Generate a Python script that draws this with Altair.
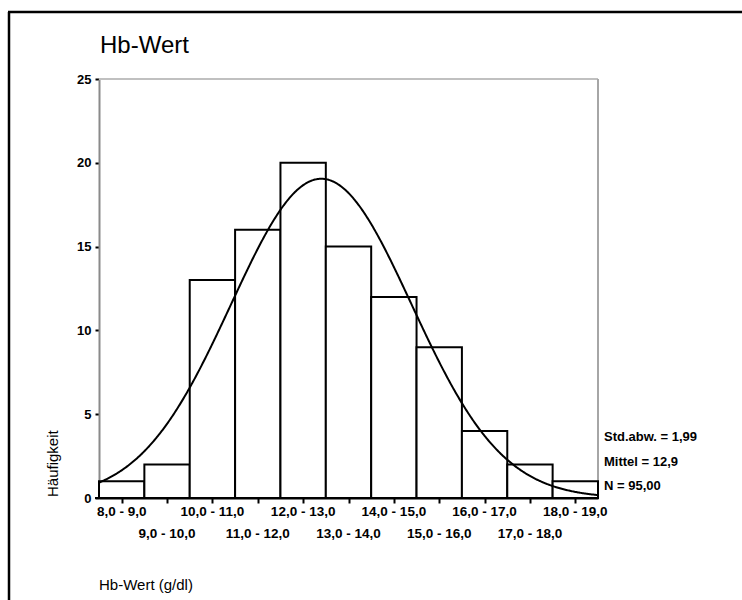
import altair as alt
import pandas as pd

# Histogram of haemoglobin values (g/dl), class width 1
bin_lo = [8, 9, 10, 11, 12, 13, 14, 15, 16, 17, 18]
bin_hi = [9, 10, 11, 12, 13, 14, 15, 16, 17, 18, 19]
counts = [1, 2, 13, 16, 20, 15, 12, 9, 4, 2, 1]
bin_labels = [
    "8,0 - 9,0", "9,0 - 10,0", "10,0 - 11,0", "11,0 - 12,0", "12,0 - 13,0",
    "13,0 - 14,0", "14,0 - 15,0", "15,0 - 16,0", "16,0 - 17,0", "17,0 - 18,0",
    "18,0 - 19,0",
]
y_ticks = [0, 5, 10, 15, 20, 25]

# Summary statistics used for the fitted normal curve
std_dev = 1.99
mean = 12.9
n_total = 95
bin_width = 1
stats_lines = ["Std.abw. = 1,99", "Mittel = 12,9", "N = 95,00"]

FONT = "Liberation Sans"
W, H = 499, 419

bars_df = pd.DataFrame({
    "lo": bin_lo,
    "hi": bin_hi,
    "count": counts,
    "mid": [(a + b) / 2 for a, b in zip(bin_lo, bin_hi)],
    "label": bin_labels,
    "row": [i % 2 for i in range(len(bin_lo))],
})

x_scale = alt.Scale(domain=[bin_lo[0], bin_hi[-1]], nice=False, zero=False)
y_scale = alt.Scale(domain=[0, 25], nice=False)

base = alt.Chart(bars_df)

bars = base.mark_rect(fill="white", stroke="black", strokeWidth=2).encode(
    x=alt.X("lo:Q", scale=x_scale,
            axis=alt.Axis(values=list(bars_df["mid"]), labels=False, title=None,
                          grid=False, domainColor="black", domainWidth=2,
                          tickColor="black", tickWidth=2, tickSize=5)),
    x2="hi:Q",
    y=alt.Y("count:Q", scale=y_scale,
            axis=alt.Axis(values=y_ticks, title=None, grid=False,
                          domainColor="#8a8a8a", domainWidth=2,
                          tickColor="black", tickWidth=2, tickSize=4,
                          labelFont=FONT, labelFontSize=13, labelFontWeight="bold",
                          labelColor="black", labelPadding=4)),
    y2=alt.datum(0),
)

curve_expr = (
    f"{n_total} * {bin_width} / ({std_dev} * sqrt(2 * PI)) * "
    f"exp(-0.5 * pow((datum.v - {mean}) / {std_dev}, 2))"
)
curve = (
    alt.Chart(alt.sequence(bin_lo[0], bin_hi[-1] + 0.001, 0.02, as_="v"))
    .transform_calculate(f=curve_expr)
    .mark_line(color="black", strokeWidth=2)
    .encode(x=alt.X("v:Q", scale=x_scale), y=alt.Y("f:Q", scale=y_scale))
)

# Class labels in two staggered rows under the bin centres
label_style = dict(font=FONT, fontSize=13.5, fontWeight="bold", color="black",
                   align="center", baseline="middle")
labels_top = base.transform_filter("datum.row == 0").mark_text(**label_style).encode(
    x=alt.X("mid:Q", scale=x_scale), y=alt.value(433), text="label:N")
labels_bottom = base.transform_filter("datum.row == 1").mark_text(**label_style).encode(
    x=alt.X("mid:Q", scale=x_scale), y=alt.value(455), text="label:N")

# Statistics block to the right of the plot
stats_df = pd.DataFrame({"text": stats_lines, "pos": [358, 383, 407]})
stats = alt.Chart(stats_df).mark_text(
    font=FONT, fontSize=13, fontWeight="bold", color="black",
    align="left", baseline="middle", x=505,
).encode(y=alt.Y("pos:Q", scale=None), text="text:N")

title = alt.Chart(pd.DataFrame({"t": ["Hb-Wert"]})).mark_text(
    font=FONT, fontSize=24, color="black", align="left", baseline="alphabetic",
).encode(x=alt.value(1), y=alt.value(-26), text="t:N")

x_title = alt.Chart(pd.DataFrame({"t": ["Hb-Wert (g/dl)"]})).mark_text(
    font=FONT, fontSize=15, color="black", align="left", baseline="middle",
).encode(x=alt.value(0), y=alt.value(506), text="t:N")

y_title = alt.Chart(pd.DataFrame({"t": ["Häufigkeit"]})).mark_text(
    font=FONT, fontSize=15, color="black", align="left", baseline="middle", angle=270,
).encode(x=alt.value(-46), y=alt.value(418), text="t:N")

# Plot frame (top and right) and outer page frame (top and left)
frame_top = alt.Chart().mark_rule(color="#c0c0c0", strokeWidth=2).encode(
    x=alt.value(0), x2=alt.value(W), y=alt.value(0))
frame_right = alt.Chart().mark_rule(color="#a6a6a6", strokeWidth=2).encode(
    x=alt.value(W), y=alt.value(0), y2=alt.value(H))
axis_stub = alt.Chart().mark_rule(color="black", strokeWidth=2).encode(
    x=alt.value(-4), x2=alt.value(1), y=alt.value(H))
outer_top = alt.Chart().mark_rule(color="black", strokeWidth=2.5).encode(
    x=alt.value(-91), x2=alt.value(660), y=alt.value(-67))
outer_left = alt.Chart().mark_rule(color="black", strokeWidth=2.5).encode(
    x=alt.value(-90), y=alt.value(-67), y2=alt.value(540))

chart = alt.layer(
    frame_top, frame_right, bars, curve, axis_stub, labels_top, labels_bottom,
    stats, title, x_title, y_title, outer_top, outer_left,
).properties(
    width=W, height=H,
    padding={"left": 99, "top": 79, "right": 144, "bottom": 102},
    autosize=alt.AutoSizeParams(type="none"),
    background="white",
).configure_view(stroke=None)

chart.save("out.html", embed_options={"renderer": "svg", "actions": False})
